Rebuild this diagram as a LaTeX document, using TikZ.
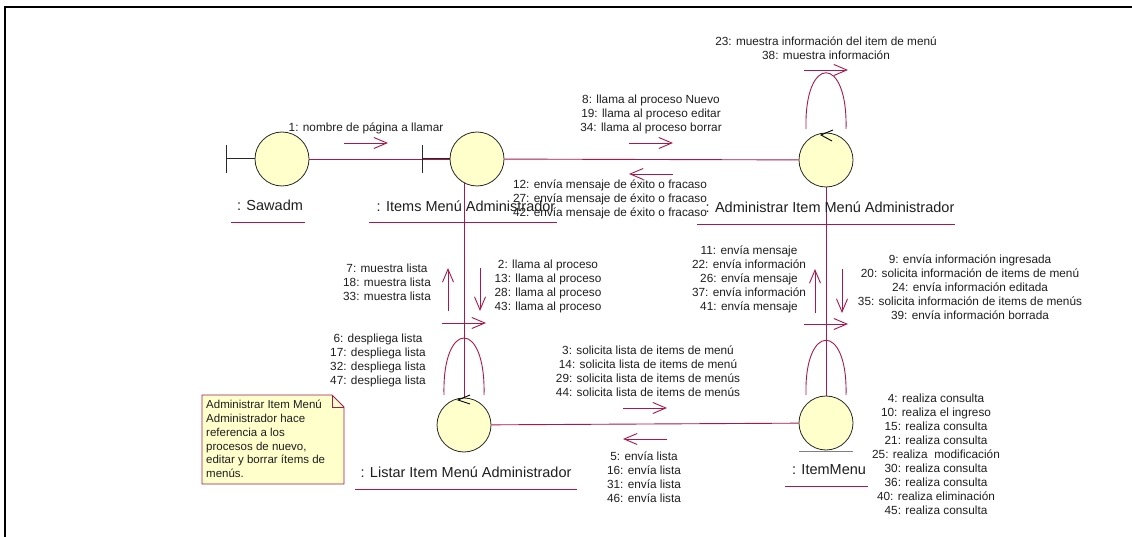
\documentclass[tikz,border=0pt]{standalone}
\usepackage{fontspec}
\setmainfont{Liberation Sans}
\usetikzlibrary{arrows.meta,backgrounds,calc}
\definecolor{linkc}{RGB}{165,25,75}
\definecolor{objfill}{RGB}{255,255,204}
\definecolor{objline}{RGB}{40,40,40}
\definecolor{txt}{RGB}{30,30,30}
\begin{document}
\begin{tikzpicture}[x=1pt,y=-1pt,
  obj/.style={circle,draw=objline,line width=0.8pt,fill=objfill,minimum size=54pt,inner sep=0pt},
  link/.style={draw=linkc,line width=0.9pt},
  msg/.style={draw=linkc,line width=0.9pt,-{Straight Barb[length=13pt,width=11pt]}},
  lbl/.style={font=\fontsize{11.8}{14}\selectfont,text=txt,align=center,inner sep=0pt},
  objname/.style={font=\fontsize{14.5}{17}\selectfont,text=txt,inner sep=0pt},
  uline/.style={draw=linkc,line width=0.9pt},
  sym/.style={draw=objline,line width=1pt},
  chev/.style={draw=black,line width=0.9pt},
  notebox/.style={draw=linkc,line width=0.9pt,fill=objfill},
]
\useasboundingbox (0,0) rectangle (1132,537);
% frame
\draw[line width=2.3pt,line cap=rect] (1140,7) -- (5,7) -- (5,545);

% objects
\node[obj] (sawadm)   at (282,159) {};
\node[obj] (items)    at (477,159) {};
\node[obj] (admin)    at (826,160) {};
\node[obj] (listar)   at (464,425) {};
\node[obj] (itemmenu) at (826,423) {};

% links, kept behind the objects
\begin{pgfonlayer}{background}
\draw[link] (sawadm) -- (items);
\draw[link] (items) -- (admin);
\draw[link] (listar) -- (listar |- items);
\draw[link] (admin) -- (itemmenu);
\draw[link] (listar) -- (itemmenu);
\end{pgfonlayer}

% boundary symbols
\draw[sym] (sawadm.west) -- ++(-28,0) ++(0,-14) -- ++(0,28);
\draw[sym] (items.west) -- ++(-27,0) ++(0,-14) -- ++(0,28);
% entity symbol
\draw[draw=gray,line width=1.2pt] ([xshift=-27pt,yshift=-1pt]itemmenu.south) -- ([xshift=27pt,yshift=-1pt]itemmenu.south);

% self links
\draw[link] ($(admin)+(-20,-31)$) .. controls ($(admin)+(-22,-106)$) and ($(admin)+(22,-106)$) .. ($(admin)+(20,-31)$);
\draw[chev] ($(admin)+(7,-30)$) -- ($(admin)+(-5,-25)$) -- ($(admin)+(6,-19)$);
\draw[link] ($(listar)+(-20,-30)$) .. controls ($(listar)+(-22,-106)$) and ($(listar)+(22,-106)$) .. ($(listar)+(20,-30)$);
\draw[chev] ($(listar)+(6,-30)$) -- ($(listar)+(-6,-25)$) -- ($(listar)+(6,-21)$);
\draw[link] ($(itemmenu)+(-20,-28)$) .. controls ($(itemmenu)+(-22,-101)$) and ($(itemmenu)+(22,-101)$) .. ($(itemmenu)+(20,-28)$);

% object names
\node[objname] (nsawadm) at (270,205) {: Sawadm};
\node[objname] (nitems) at (466,206) {: Items Menú Administrador};
\node[objname] (nadmin) at (830,207) {: Administrar Item Menú Administrador};
\node[objname] (nlistar) at (466,472) {: Listar Item Menú Administrador};
\node[objname] (nitemmenu) at (829,470) {: ItemMenu};
\draw[uline] (231,222) -- (305,222);
\draw[uline] (369,222) -- (557,222);
\draw[uline] (697,224) -- (955,224);
\draw[uline] (355,489) -- (577,489);
\draw[uline] (785,486) -- (868,486);

% message arrows
\coordinate (m1a) at (344,143);  \coordinate (m1b) at (388,143);
\coordinate (m8a) at (629,143);  \coordinate (m8b) at (673,143);
\coordinate (m12a) at (673,174); \coordinate (m12b) at (629,174);
\coordinate (m23a) at (804,70);  \coordinate (m23b) at (848,70);
\coordinate (m7a) at (448,311);  \coordinate (m7b) at (448,268);
\coordinate (m2a) at (480,268);  \coordinate (m2b) at (480,311);
\coordinate (m6a) at (442,323);  \coordinate (m6b) at (486,323);
\coordinate (m11a) at (815,313); \coordinate (m11b) at (815,269);
\coordinate (m9a) at (842,269);  \coordinate (m9b) at (842,313);
\coordinate (m4a) at (804,324);  \coordinate (m4b) at (848,324);
\coordinate (m3a) at (623,408);  \coordinate (m3b) at (667,408);
\coordinate (m5a) at (667,439);  \coordinate (m5b) at (623,439);
\foreach \m in {m1,m8,m12,m23,m7,m2,m6,m11,m9,m4,m3,m5}
  \draw[msg] (\m a) -- (\m b);

% message labels
\node[lbl] (t1) at (366,128) {1: nombre de página a llamar};
\node[lbl] (t8) at (651,114) {8: llama al proceso Nuevo\\19: llama al proceso editar\\34: llama al proceso borrar};
\node[lbl] (t12) at (610,199) {12: envía mensaje de éxito o fracaso\\27: envía mensaje de éxito o fracaso\\42: envía mensaje de éxito o fracaso};
\node[lbl] (t23) at (826,48) {23: muestra información del item de menú\\38: muestra información};
\node[lbl] (t7) at (387,282) {7: muestra lista\\18: muestra lista\\33: muestra lista};
\node[lbl] (t2) at (548,286) {2: llama al proceso\\13: llama al proceso\\28: llama al proceso\\43: llama al proceso};
\node[lbl] (t6) at (378,360) {6: despliega lista\\17: despliega lista\\32: despliega lista\\47: despliega lista};
\node[lbl] (t3) at (648,371) {3: solicita lista de items de menú\\14: solicita lista de items de menú\\29: solicita lista de items de menús\\44: solicita lista de items de menús};
\node[lbl] (t5) at (644,477) {5: envía lista\\16: envía lista\\31: envía lista\\46: envía lista};
\node[lbl] (t11) at (749,279) {11: envía mensaje\\22: envía información\\26: envía mensaje\\37: envía información\\41: envía mensaje};
\node[lbl] (t9) at (970,287) {9: envía información ingresada\\20: solicita información de items de menú\\24: envía información editada\\35: solicita información de items de menús\\39: envía información borrada};
\node[lbl] (t4) at (936,454) {4: realiza consulta\\10: realiza el ingreso\\15: realiza consulta\\21: realiza consulta\\25: realiza\ \ modificación\\30: realiza consulta\\36: realiza consulta\\40: realiza eliminación\\45: realiza consulta};

% note
\draw[notebox] (202,395) -- (332,395) -- (344,407) -- (344,484) -- (202,484) -- cycle;
\draw[draw=linkc,line width=0.9pt] (332,395) -- (332,407) -- (344,407);
\node[anchor=north west,inner sep=0pt,align=left,text=txt,font=\fontsize{11.5}{13.8}\selectfont] (notetext) at (206,400)
  {Administrar Item Menú\\Administrador hace\\referencia a los\\procesos de nuevo,\\editar y borrar ítems de\\menús.};
\end{tikzpicture}
\end{document}
